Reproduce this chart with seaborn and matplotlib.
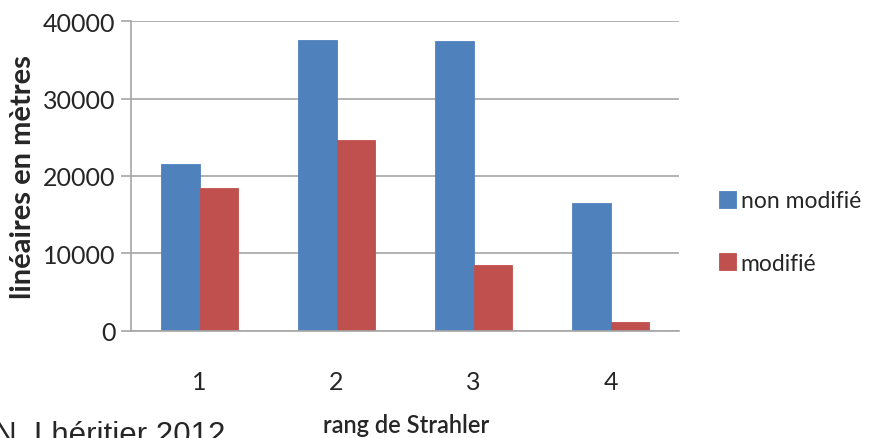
import matplotlib
matplotlib.use("Agg")
import matplotlib.pyplot as plt
import seaborn as sns
import pandas as pd
import numpy as np

# Stream lengths by Strahler order
orders = ["1", "2", "3", "4"]
non_modifie = [21500, 37600, 37400, 16500]
modifie = [18500, 24600, 8450, 1100]
series_names = ["non modifié", "modifié"]
y_ticks = [0, 10000, 20000, 30000, 40000]

df = pd.DataFrame({
    "rang": orders * 2,
    "valeur": non_modifie + modifie,
    "statut": [series_names[0]] * len(orders) + [series_names[1]] * len(orders),
})

sns.set_theme(style="white")
plt.rcParams["font.family"] = ["Lato", "DejaVu Sans"]

fig = plt.figure(figsize=(8.69, 4.39), dpi=100)
ax = fig.add_axes([131 / 869, 1 - 331.7 / 439, 548 / 869, 309.4 / 439])

palette = {"non modifié": "#4f81bd", "modifié": "#c0504d"}
sns.barplot(data=df, x="rang", y="valeur", hue="statut", palette=palette,
            width=0.56, gap=0, ax=ax, saturation=1, legend=True)

for p in ax.patches:
    p.set_edgecolor(p.get_facecolor())
    p.set_linewidth(0.6)

grid_col = "#a6a6a6"
ax.set_ylim(0, 40000)
ax.set_xlim(-0.5, 3.5)
ax.set_yticks(y_ticks)
ax.set_yticklabels([str(v) for v in y_ticks], fontsize=18)
ax.yaxis.grid(True, color=grid_col, linewidth=1.2)
ax.set_axisbelow(True)

# category labels centered, tick marks at group boundaries
ax.set_xticks(range(len(orders)))
ax.set_xticklabels(orders, fontsize=18)
ax.set_xticks(np.arange(-0.5, len(orders), 1.0), minor=True)
ax.tick_params(axis="x", which="major", length=0, pad=28)
ax.tick_params(axis="x", which="minor", length=9, width=1.2, color=grid_col, direction="out")
ax.tick_params(axis="y", which="major", length=7, width=1.2, color=grid_col, direction="out", pad=4, left=True)

for side in ["top", "right"]:
    ax.spines[side].set_visible(False)
for side in ["left", "bottom"]:
    ax.spines[side].set_color(grid_col)
    ax.spines[side].set_linewidth(1.2)

ax.set_ylabel("linéaires en mètres", fontsize=21, fontweight="bold", labelpad=5)
ax.set_xlabel("")
fig.text(406 / 869, 1 - 426 / 439, "rang de Strahler", ha="center", va="center",
         fontsize=17, fontweight="semibold")

handles, labels = ax.get_legend_handles_labels()
ax.legend(handles, labels, loc="center left", bbox_to_anchor=(719 / 869, 1 - 233 / 439),
          bbox_transform=fig.transFigure, frameon=False, fontsize=16.5,
          handlelength=0.75, handleheight=0.75, handletextpad=0.2, labelspacing=1.8,
          borderaxespad=0, borderpad=0)

fig.text(-6 / 869, 1 - 444 / 439, "N. Lhéritier 2012", ha="left", va="baseline",
         fontsize=22.5, family=["Liberation Sans", "DejaVu Sans"])

fig.savefig("out.png", dpi=100)
